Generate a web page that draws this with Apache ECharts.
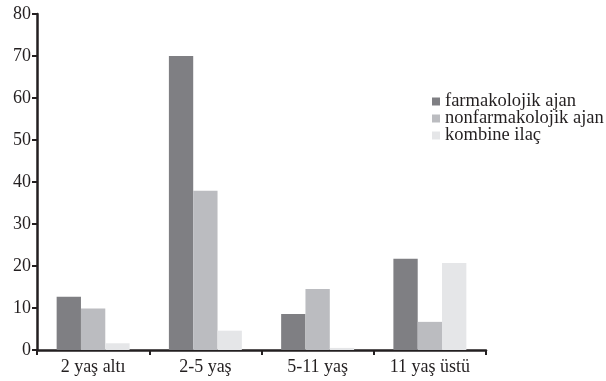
<!DOCTYPE html>
<html>
<head>
<meta charset="utf-8">
<script src="https://cdn.jsdelivr.net/npm/echarts@6/dist/echarts.min.js"></script>
<style>html,body{margin:0;padding:0;background:#fff}#c{width:606px;height:381px}</style>
</head>
<body>
<div id="c"></div>
<script>
const categories = ['2 yaş altı', '2-5 yaş', '5-11 yaş', '11 yaş üstü'];
const seriesNames = ['farmakolojik ajan', 'nonfarmakolojik ajan', 'kombine ilaç'];
const farmakolojik = [12.7, 70, 8.6, 21.7];
const nonfarmakolojik = [9.9, 37.9, 14.5, 6.7];
const kombine = [1.6, 4.6, 0.5, 20.7];
const yTicks = [0, 10, 20, 30, 40, 50, 60, 70, 80];

const colors = ['#7f7f83', '#bbbcc0', '#e5e6e8'];
const font = 'Liberation Serif, Times New Roman, serif';
const chart = echarts.init(document.getElementById('c'), null, {renderer: 'canvas'});
const data = [farmakolojik, nonfarmakolojik, kombine];
chart.setOption({
  animation: false,
  backgroundColor: '#fff',
  grid: {left: 37, right: 120, top: 14, bottom: 31, containLabel: false},
  legend: {
    orient: 'vertical', left: 432, top: 92, padding: 0,
    itemWidth: 8, itemHeight: 8, itemGap: -2,
    icon: 'rect',
    data: seriesNames,
    textStyle: {fontFamily: font, fontSize: 18.5, lineHeight: 16, color: '#231f20'}
  },
  xAxis: {
    type: 'category', data: categories,
    axisLine: {lineStyle: {color: '#231f20', width: 2.5}},
    axisTick: {show: true, length: 5, lineStyle: {color: '#231f20', width: 2}},
    axisLabel: {fontFamily: font, fontSize: 18, color: '#231f20', margin: 8}
  },
  yAxis: {
    type: 'value', min: yTicks[0], max: yTicks[yTicks.length - 1], interval: 10,
    axisLine: {show: true, lineStyle: {color: '#231f20', width: 2.5}},
    axisTick: {show: true, length: 5, lineStyle: {color: '#231f20', width: 2}},
    splitLine: {show: false},
    axisLabel: {fontFamily: font, fontSize: 18, color: '#231f20', margin: 6}
  },
  series: seriesNames.map((n, i) => ({
    name: n, type: 'bar', data: data[i],
    barGap: '0%', barCategoryGap: '35%',
    itemStyle: {color: colors[i]}
  }))
});
</script>
</body>
</html>
